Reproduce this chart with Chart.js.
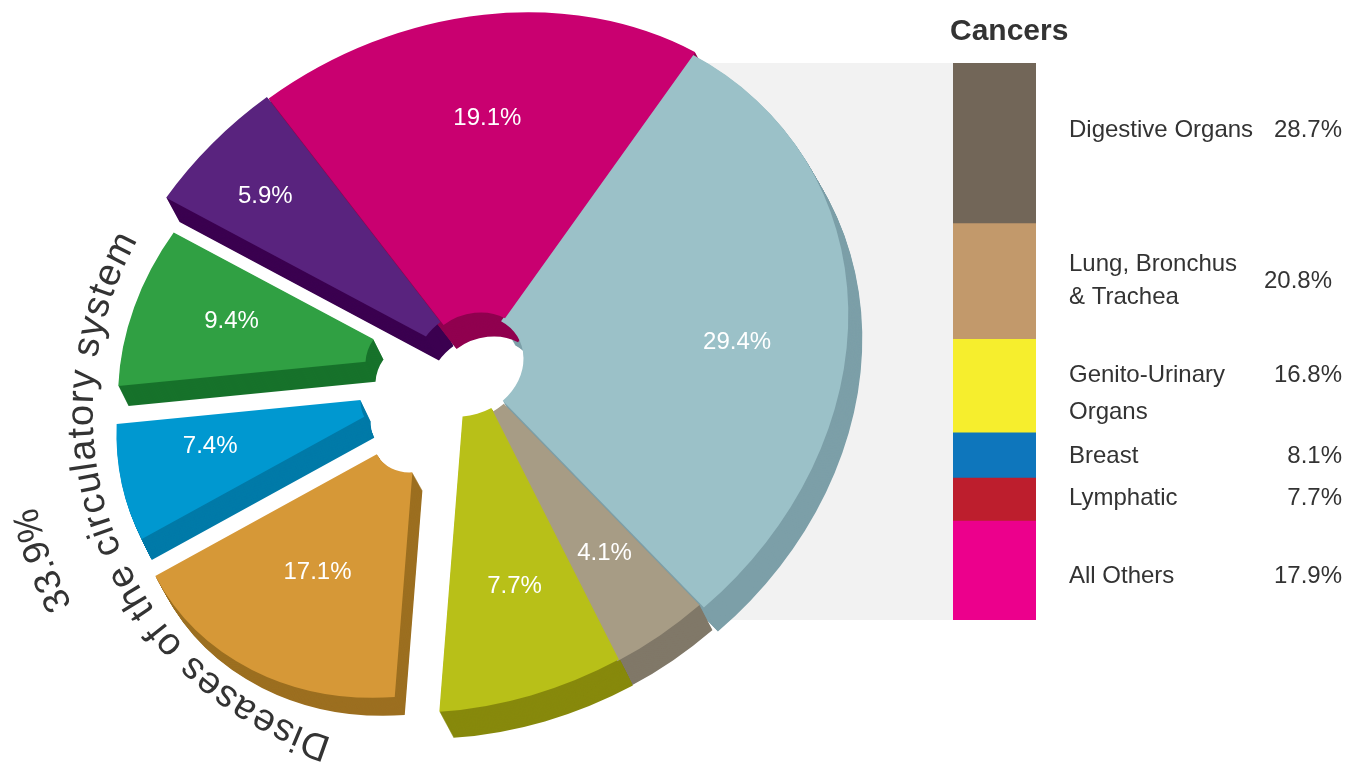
<!DOCTYPE html>
<html><head><meta charset="utf-8">
<style>
html,body{margin:0;padding:0;background:#fff;width:1350px;height:770px;overflow:hidden}
#pie,#bar{position:absolute;left:0;top:0}
#curve{position:absolute;left:0;top:0;pointer-events:none}
#curve text{font-family:"Liberation Sans",Arial,sans-serif;font-size:38px;fill:#333333}
</style>
<script src="https://cdn.jsdelivr.net/npm/chart.js@4"></script>
</head><body>
<canvas id="pie" width="1350" height="770"></canvas>
<canvas id="bar" width="1350" height="770"></canvas>
<svg id="curve" width="1350" height="770" xmlns="http://www.w3.org/2000/svg">
<defs>
<path id="arcA" d="M 332 738 A 354 345 -45 0 1 192 166"/>
<path id="arcB" d="M 72 605 A 410 410 0 0 1 27 409 A 410 410 0 0 1 60 250"/>
</defs>
<text letter-spacing="1.1"><textPath href="#arcA">Diseases of the circulatory system</textPath></text>
<text style="font-size:37px"><textPath href="#arcB">33.9%</textPath></text>
</svg>
<script>
const sliceValues = [29.4, 4.1, 7.7, 17.1, 7.4, 9.4, 5.9, 19.1];
const sliceLabels = ['29.4%', '4.1%', '7.7%', '17.1%', '7.4%', '9.4%', '5.9%', '19.1%'];
const sliceColors = ['#9bc1c8', '#a79c85', '#b8c018', '#d69837', '#0098d0', '#30a043', '#59237e', '#c90070'];
const sliceDepthColors = ['#7c9fa8', '#807868', '#87890c', '#9c6f20', '#007aa8', '#17722b', '#3b0050', '#90004f'];

const cancerNames = [['Digestive Organs'], ['Lung, Bronchus', '& Trachea'], ['Genito-Urinary', 'Organs'], ['Breast'], ['Lymphatic'], ['All Others']];
const cancerValues = [28.7, 20.8, 16.8, 8.1, 7.7, 17.9];
const cancerLabels = ['28.7%', '20.8%', '16.8%', '8.1%', '7.7%', '17.9%'];
const cancerColors = ['#726658', '#c2996b', '#f6ee2d', '#0e76bc', '#bd1e2d', '#ec008c'];

// Layout only: where each exploded wedge sits on the page.
const wedgeCenterX = [469, 468, 467, 415.5, 402, 408, 470, 473];
const wedgeCenterY = [366, 367, 360, 433, 396, 357.6, 360, 363];
const wedgeRadius  = [348, 343, 349, 262, 262, 266, 345, 347];
const wedgeInner   = [50, 53, 56, 39, 38, 39, 50, 50];
const wedgeDepthX  = [14, 13, 14, 10, 10, 10, 13, 13];
const wedgeDepthY  = [24, 25, 26, 18, 21, 20, 24, 24];
const labelAlong   = [0.537, 0.451, 0.465, 0.513, 0.624, 0.54, 0.454, 0.521];
const labelOut     = [0.7075, 0.697, 0.677, 0.588, 0.678, 0.65, 0.78, 0.702];
// The pie is seen slightly tilted: a single stretch and shear applies to every wedge.
const TILT_STRETCH = 1.09, TILT_SHEAR = -0.135;
const rowNameY = [[130], [264, 297], [375, 412], [456], [498], [576]];
const rowValueY = [130, 281, 375, 456, 498, 576];
const rowValueX = [1342, 1332, 1342, 1342, 1342, 1342];

const FONT = '"Liberation Sans", Arial, sans-serif';

function paintArc(ctx, arc, color) {
  const original = arc.options;
  arc.options = Object.assign({}, original, {backgroundColor: color, borderColor: color, borderWidth: 0});
  arc.draw(ctx);
  arc.options = original;
}

const wedgePlugin = {
  id: 'wedges',
  afterDatasetsUpdate(chart) {
    const proto = Chart.ArcElement.prototype.draw;
    chart.getDatasetMeta(0).data.forEach((arc, i) => {
      arc.x = wedgeCenterX[i];
      arc.y = wedgeCenterY[i];
      arc.outerRadius = wedgeRadius[i];
      arc.innerRadius = wedgeInner[i];
      arc.draw = function (ctx, area) {
        ctx.save();
        ctx.translate(this.x, this.y);
        ctx.transform(TILT_STRETCH, TILT_SHEAR * TILT_STRETCH, 0, 1, 0, 0);
        ctx.translate(-this.x, -this.y);
        proto.call(this, ctx, area);
        ctx.restore();
      };
    });
  },
  beforeDatasetsDraw(chart) {
    const {ctx} = chart;
    // light connector band between the pie and the stacked bar
    ctx.fillStyle = '#f2f2f2';
    ctx.fillRect(700, 63, 253, 557);
    chart.getDatasetMeta(0).data.forEach((arc, i) => {
      const steps = Math.max(wedgeDepthX[i], wedgeDepthY[i]);
      for (let s = steps; s >= 1; s--) {
        ctx.save();
        ctx.translate(wedgeDepthX[i] * s / steps, wedgeDepthY[i] * s / steps);
        paintArc(ctx, arc, sliceDepthColors[i]);
        ctx.restore();
      }
    });
  },
  afterDatasetsDraw(chart) {
    const {ctx} = chart;
    ctx.save();
    ctx.font = '24px ' + FONT;
    ctx.fillStyle = '#ffffff';
    ctx.textAlign = 'center';
    ctx.textBaseline = 'middle';
    chart.getDatasetMeta(0).data.forEach((arc, i) => {
      const a = arc.startAngle + (arc.endAngle - arc.startAngle) * labelAlong[i];
      const r = arc.outerRadius * labelOut[i];
      const px = TILT_STRETCH * Math.cos(a) * r;
      const py = Math.sin(a) * r + TILT_SHEAR * px;
      ctx.fillText(sliceLabels[i], arc.x + px, arc.y + py + 1);
    });
    ctx.restore();
  }
};

new Chart(document.getElementById('pie'), {
  type: 'doughnut',
  data: {labels: sliceLabels, datasets: [{
    data: sliceValues, backgroundColor: sliceColors, borderWidth: 0, clip: false
  }]},
  options: {
    responsive: false, animation: false, rotation: 36, cutout: 0,
    layout: {padding: {left: 0, top: 0, right: 390, bottom: 40}},
    plugins: {legend: {display: false}, tooltip: {enabled: false}}
  },
  plugins: [wedgePlugin]
});

const barTextPlugin = {
  id: 'barText',
  afterDatasetsDraw(chart) {
    const {ctx} = chart;
    ctx.save();
    ctx.fillStyle = '#333333';
    ctx.textBaseline = 'middle';
    ctx.font = 'bold 30px ' + FONT;
    ctx.textAlign = 'left';
    ctx.fillText('Cancers', 950, 32);
    ctx.font = '24px ' + FONT;
    cancerNames.forEach((lines, i) => {
      ctx.textAlign = 'left';
      lines.forEach((line, k) => ctx.fillText(line, 1069, rowNameY[i][k]));
      ctx.textAlign = 'right';
      ctx.fillText(cancerLabels[i], rowValueX[i], rowValueY[i]);
    });
    ctx.restore();
  }
};

new Chart(document.getElementById('bar'), {
  type: 'bar',
  data: {labels: ['Cancers'], datasets: cancerValues.map((v, i) => ({
    data: [v], backgroundColor: cancerColors[i], borderWidth: 0,
    categoryPercentage: 1, barPercentage: 1
  }))},
  options: {
    responsive: false, animation: false,
    layout: {padding: {left: 953, right: 314, top: 63, bottom: 150}},
    scales: {
      x: {display: false, stacked: true},
      y: {display: false, stacked: true, min: 0, max: 100, reverse: true}
    },
    plugins: {legend: {display: false}, tooltip: {enabled: false}}
  },
  plugins: [barTextPlugin]
});
</script>
</body></html>
